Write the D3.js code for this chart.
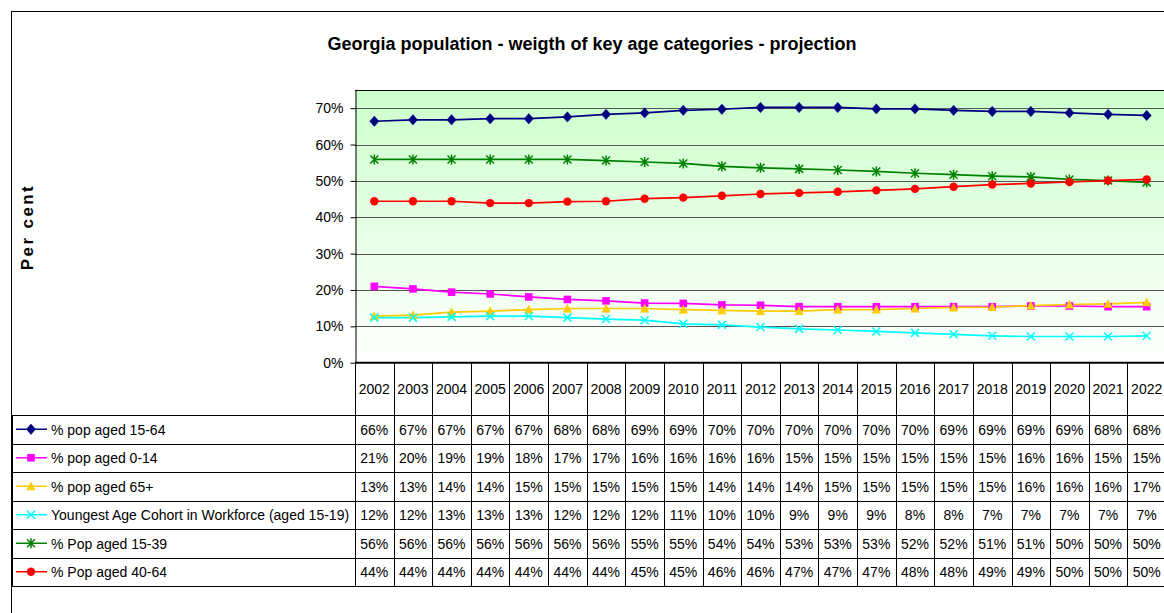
<!DOCTYPE html>
<html>
<head>
<meta charset="utf-8">
<script src="https://cdn.jsdelivr.net/npm/d3@7"></script>
<style>
  html, body { margin: 0; padding: 0; background: #fff; }
  svg { display: block; font-family: Arial, "Liberation Sans", sans-serif; }
</style>
</head>
<body>
<svg id="chart" width="1164" height="613"></svg>
<script>
// ---------- data ----------
const years = ["2002","2003","2004","2005","2006","2007","2008","2009","2010","2011","2012",
               "2013","2014","2015","2016","2017","2018","2019","2020","2021","2022"];
const pop15_64 = [66.4, 66.8, 66.8, 67.1, 67.1, 67.6, 68.3, 68.7, 69.4, 69.7, 70.2,
                  70.2, 70.2, 69.8, 69.8, 69.4, 69.1, 69.1, 68.7, 68.3, 68.0];
const pop0_14  = [21.0, 20.3, 19.4, 18.9, 18.1, 17.4, 17.0, 16.4, 16.3, 15.9, 15.8,
                  15.4, 15.4, 15.4, 15.4, 15.4, 15.4, 15.6, 15.6, 15.4, 15.4];
const pop65    = [12.8, 13.1, 13.9, 14.2, 14.6, 14.9, 14.9, 14.9, 14.6, 14.4, 14.2,
                  14.2, 14.6, 14.6, 14.9, 15.2, 15.3, 15.7, 16.0, 16.2, 16.6];
const pop15_19 = [12.4, 12.4, 12.6, 12.8, 12.8, 12.4, 12.0, 11.7, 10.7, 10.4, 9.8,
                  9.3, 9.0, 8.6, 8.2, 7.8, 7.4, 7.2, 7.2, 7.2, 7.4];
const pop15_39 = [55.9, 55.9, 55.9, 55.9, 55.9, 55.9, 55.6, 55.2, 54.8, 54.0, 53.6,
                  53.3, 53.0, 52.6, 52.1, 51.7, 51.3, 51.1, 50.4, 50.1, 49.6];
const pop40_64 = [44.4, 44.4, 44.4, 43.9, 43.9, 44.3, 44.4, 45.1, 45.4, 45.9, 46.4,
                  46.7, 47.0, 47.4, 47.8, 48.4, 49.0, 49.3, 49.7, 50.1, 50.4];
const seriesNames = ["% pop aged 15-64", "% pop aged 0-14", "% pop aged 65+",
                     "Youngest Age Cohort in Workforce (aged 15-19)", "% Pop aged 15-39", "% Pop aged 40-64"];
const yTicks = [0, 10, 20, 30, 40, 50, 60, 70];
const title = "Georgia population - weigth of key age categories - projection";
const yTitle = "Per cent";

// ---------- styling ----------
const seriesValues = [pop15_64, pop0_14, pop65, pop15_19, pop15_39, pop40_64];
const colors = ["#000080", "#ff00ff", "#ffcc00", "#00ffff", "#008000", "#ff0000"];
const markerTypes = ["diamond", "square", "triangle", "x", "star", "circle"];
const series = seriesNames.map((n, i) => ({name: n, values: seriesValues[i], color: colors[i], marker: markerTypes[i]}));

const svg = d3.select("#chart");
const W = 1164, H = 613;
const plot = {left: 355, right: 1166, top: 90, bottom: 362.7};
const tableLeft = 12;
const rowTop0 = 415, rowH = 28.5;

svg.append("rect").attr("width", W).attr("height", H).attr("fill", "#fff");

// outer chart border (extends beyond the visible area on right/bottom)
svg.append("rect").attr("x", 11.5).attr("y", 11.5).attr("width", 1200).attr("height", 700)
  .attr("fill", "none").attr("stroke", "#000").attr("stroke-width", 1);

// title
svg.append("text").attr("x", 592).attr("y", 50).attr("text-anchor", "middle")
  .attr("font-size", 18).attr("font-weight", "bold").attr("fill", "#000").text(title);

// y axis title
svg.append("text").attr("transform", "translate(33,227) rotate(-90)")
  .attr("text-anchor", "middle").attr("font-size", 17).attr("font-weight", "bold")
  .attr("letter-spacing", 2.4).attr("fill", "#000").text(yTitle);

// gradient
const defs = svg.append("defs");
const grad = defs.append("linearGradient").attr("id", "bg").attr("x1", 0).attr("y1", 0).attr("x2", 0).attr("y2", 1);
grad.append("stop").attr("offset", "0%").attr("stop-color", "#ccffcc");
grad.append("stop").attr("offset", "100%").attr("stop-color", "#ffffff");

const x = d3.scaleBand().domain(years).range([plot.left, plot.right]);
const y = d3.scaleLinear().domain([0, 75]).range([plot.bottom, plot.top]);

svg.append("rect").attr("x", plot.left).attr("y", plot.top)
  .attr("width", plot.right - plot.left).attr("height", plot.bottom - plot.top)
  .attr("fill", "url(#bg)");

// gridlines
svg.append("g").selectAll("line").data(yTicks.filter(d => d > 0)).join("line")
  .attr("x1", plot.left).attr("x2", plot.right)
  .attr("y1", d => Math.round(y(d)) + 0.5).attr("y2", d => Math.round(y(d)) + 0.5)
  .attr("stroke", "#555").attr("stroke-width", 1);

// plot top border
svg.append("line").attr("x1", plot.left).attr("x2", plot.right).attr("y1", plot.top + 0.5).attr("y2", plot.top + 0.5)
  .attr("stroke", "#000");

// y axis
const yAxis = svg.append("g").attr("transform", `translate(${plot.left + 0.5},0)`)
  .call(d3.axisLeft(y).tickValues(yTicks).tickSize(5).tickSizeOuter(0).tickPadding(7).tickFormat(d => d + "%"));
yAxis.selectAll("text").attr("font-size", 14).attr("font-family", "Arial, 'Liberation Sans', sans-serif").attr("fill", "#000");
yAxis.selectAll("line,path").attr("stroke", "#000");

// lines
const line = d3.line().x((d, i) => x(years[i]) + x.bandwidth() / 2).y(d => y(d));
series.forEach(s => {
  svg.append("path").datum(s.values).attr("d", line).attr("fill", "none")
    .attr("stroke", s.color).attr("stroke-width", 1.7);
});

function drawMarker(g, type, color) {
  if (type === "diamond") {
    g.append("path").attr("d", "M0,-5.2L4.6,0L0,5.2L-4.6,0Z").attr("fill", color).attr("stroke", color).attr("stroke-width", 0.5);
  } else if (type === "square") {
    g.append("rect").attr("x", -3.8).attr("y", -3.8).attr("width", 7.6).attr("height", 7.6).attr("fill", color);
  } else if (type === "triangle") {
    g.append("path").attr("d", "M0,-4.8L4.6,4L-4.6,4Z").attr("fill", color);
  } else if (type === "x") {
    g.append("path").attr("d", "M-4,-4L4,4M-4,4L4,-4").attr("stroke", color).attr("stroke-width", 1.5).attr("fill", "none");
  } else if (type === "star") {
    g.append("path").attr("d", "M-4,-4L4,4M-4,4L4,-4M0,-5L0,5").attr("stroke", color).attr("stroke-width", 1.5).attr("fill", "none");
  } else if (type === "circle") {
    g.append("circle").attr("r", 4.2).attr("fill", color);
  }
}

// markers
series.forEach(s => {
  s.values.forEach((v, i) => {
    const g = svg.append("g").attr("transform", `translate(${x(years[i]) + x.bandwidth() / 2},${y(v)})`);
    drawMarker(g, s.marker, s.color);
  });
});

// x axis line (thick)
svg.append("line").attr("x1", plot.left).attr("x2", plot.right).attr("y1", plot.bottom).attr("y2", plot.bottom)
  .attr("stroke", "#000").attr("stroke-width", 2);

// ---------- data table ----------
const tableBottom = rowTop0 + rowH * series.length;
const tbl = svg.append("g");
const bounds = years.map(yr => x(yr)).concat([plot.right]);
tbl.selectAll("line.v").data(bounds).join("line").attr("class", "v")
  .attr("x1", d => Math.round(d) + 0.5).attr("x2", d => Math.round(d) + 0.5)
  .attr("y1", plot.bottom).attr("y2", tableBottom)
  .attr("stroke", "#000").attr("stroke-width", 1);
tbl.append("line").attr("x1", tableLeft + 0.5).attr("x2", tableLeft + 0.5)
  .attr("y1", rowTop0).attr("y2", tableBottom).attr("stroke", "#000");
tbl.selectAll("line.h").data(d3.range(series.length + 1)).join("line").attr("class", "h")
  .attr("x1", tableLeft).attr("x2", plot.right)
  .attr("y1", i => Math.round(rowTop0 + i * rowH) + 0.5).attr("y2", i => Math.round(rowTop0 + i * rowH) + 0.5)
  .attr("stroke", "#000");
tbl.selectAll("text.yr").data(years).join("text").attr("class", "yr")
  .attr("x", d => x(d) + x.bandwidth() / 2).attr("y", 393.5).attr("text-anchor", "middle")
  .attr("font-size", 14).attr("fill", "#000").text(d => d);
series.forEach((s, r) => {
  const cy = rowTop0 + r * rowH + rowH / 2;
  const lg = tbl.append("g");
  lg.append("line").attr("x1", 16).attr("x2", 47).attr("y1", cy).attr("y2", cy).attr("stroke", s.color).attr("stroke-width", 1.5);
  drawMarker(lg.append("g").attr("transform", `translate(31,${cy})`), s.marker, s.color);
  lg.append("text").attr("x", 51).attr("y", cy + 5.5).attr("font-size", 14).attr("fill", "#000").text(s.name);
  tbl.selectAll(null).data(s.values).join("text")
    .attr("x", (d, i) => x(years[i]) + x.bandwidth() / 2).attr("y", cy + 5.5)
    .attr("text-anchor", "middle").attr("font-size", 14).attr("fill", "#000")
    .text(d => Math.round(d) + "%");
});
</script>
</body>
</html>
